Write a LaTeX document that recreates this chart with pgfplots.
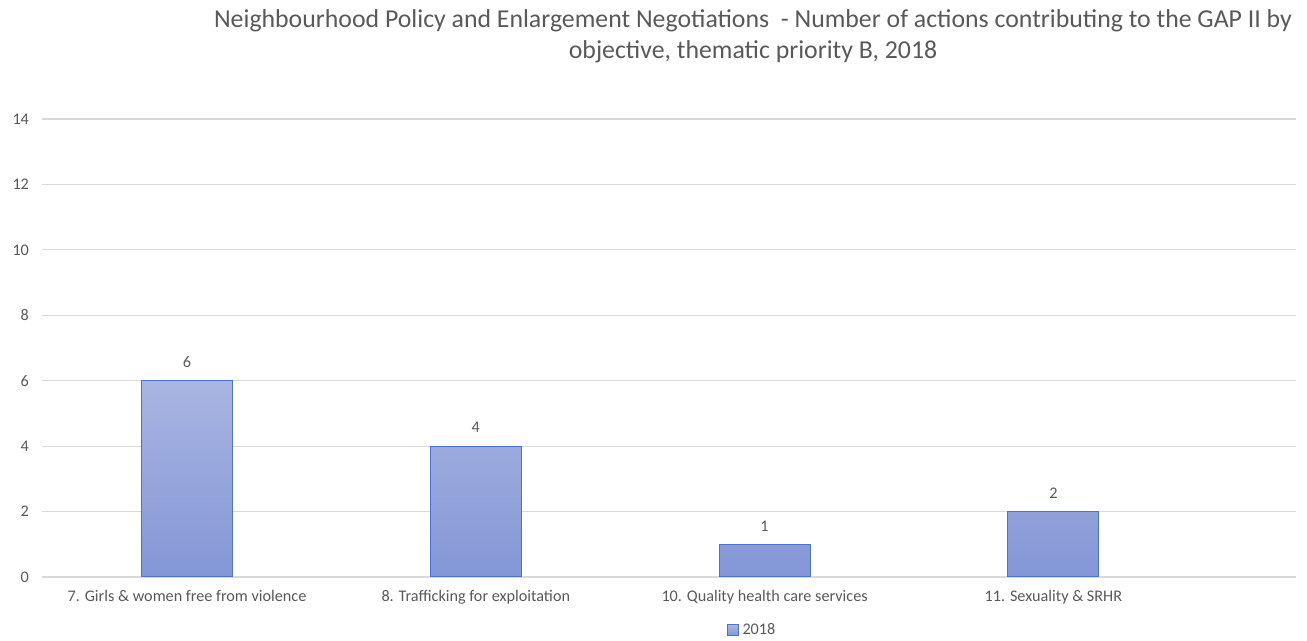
\documentclass[border=0pt]{standalone}
\usepackage{pgfplots}
\pgfplotsset{compat=1.18}
\usepackage{fontspec}
\setmainfont{Carlito}
\definecolor{txtgray}{HTML}{595959}
\definecolor{gridgray}{HTML}{D9D9D9}
\definecolor{bartop}{HTML}{A9B5E1}
\definecolor{barbot}{HTML}{8396D6}
\definecolor{baredge}{HTML}{4A72D0}
\begin{document}
\begin{tikzpicture}
\begin{axis}[
    scale only axis,
    width=627pt, height=229pt,
    xmin=-0.502, xmax=3.84,
    ymin=0, ymax=14,
    ytick={0,2,...,14},
    xtick={0,1,2,3},
    xticklabels={7. Girls \& women free from violence,8. Trafficking for exploitation,10. Quality health care services,11. Sexuality \& SRHR},
    axis line style={draw=none},
    axis x line*=bottom,
    x axis line style={draw=gridgray, line width=0.6pt},
    ymajorgrids, grid style={gridgray, line width=0.6pt},
    major tick length=0pt,
    tick label style={font=\fontsize{8.1}{9}\selectfont, text=txtgray},
    /pgf/number format/assume math mode=true,
    yticklabel style={xshift=-3pt},
    xticklabel style={yshift=-3pt},
    ybar, bar width=45.5pt,
    nodes near coords,
    every node near coord/.append style={font=\fontsize{8.1}{9}\selectfont, text=txtgray, yshift=3pt},
    legend style={draw=none, at={(0.567,-0.116)}, anchor=center, font=\fontsize{8.1}{9}\selectfont, text=txtgray, inner sep=0pt},
    legend image code/.code={\draw[#1] (0pt,-2.7pt) rectangle (5.4pt,2.7pt);},
    clip=false
]
\addplot[draw=baredge, line width=0.5pt, top color=bartop, bottom color=barbot] coordinates {(0,6) (1,4) (2,1) (3,2)};
\addlegendentry{2018}
\node[align=center, text=txtgray, font=\fontsize{12.9}{15.5}\selectfont] at ([yshift=41.5pt]rel axis cs:0.567,1) {Neighbourhood Policy and Enlargement Negotiations\ \ - Number of actions contributing to the GAP II by\\objective, thematic priority B, 2018};
\end{axis}
\pgfresetboundingbox
\path[use as bounding box] ([xshift=-21pt,yshift=-32pt]current axis.south west) rectangle ([xshift=5.5pt,yshift=59.5pt]current axis.north east);
\end{tikzpicture}
\end{document}
